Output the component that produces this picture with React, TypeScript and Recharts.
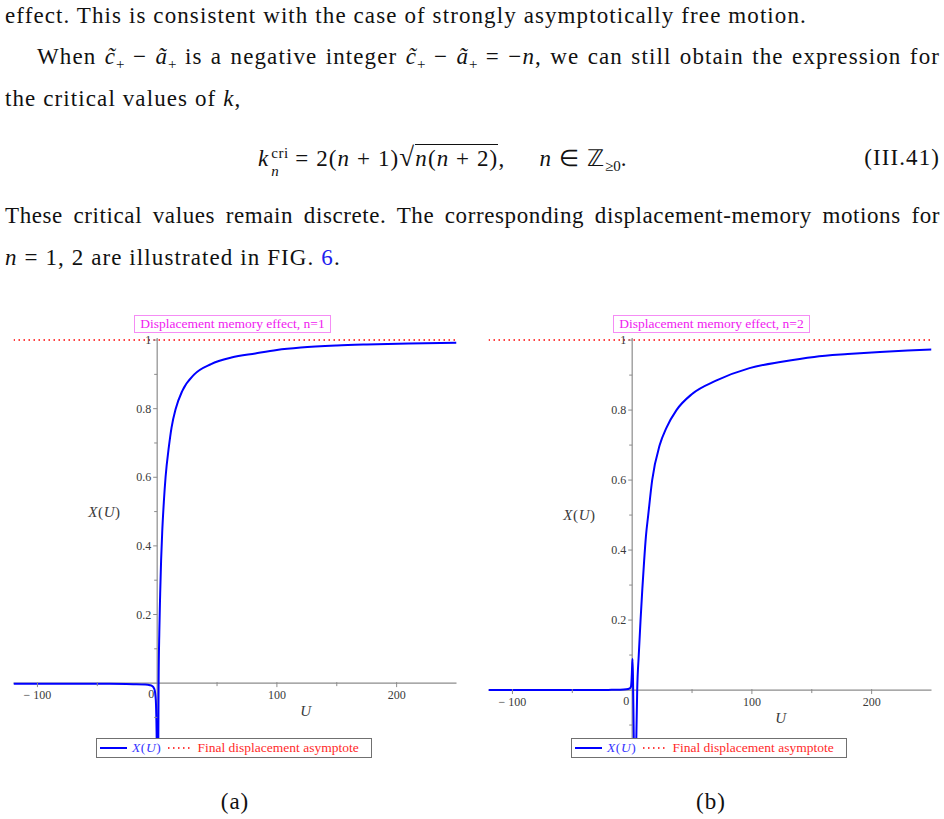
import React from 'react';
import { LineChart, Line, XAxis, YAxis, ReferenceLine, ReferenceDot, Legend } from 'recharts';

// n = 1 panel, X(U)
const uA = [-120, -80, -40, -20, -10, -6, -4, -3, -2, -1.5, -1, -0.5, 0, 0.5, 0.9, 1.2, 1.8, 2.5, 3.3, 4.2, 5.6, 7, 9.8, 12, 15.5, 21, 31, 45, 62, 82, 100, 120, 150, 175, 210, 250];
const xA = [-0.002, -0.002, -0.002, -0.003, -0.004, -0.006, -0.009, -0.013, -0.022, -0.035, -0.06, -0.14, -0.3, -0.3, -0.2, 0, 0.15, 0.26, 0.36, 0.44, 0.53, 0.6, 0.69, 0.745, 0.8, 0.852, 0.9, 0.93, 0.949, 0.961, 0.971, 0.978, 0.984, 0.987, 0.99, 0.992];

// n = 2 panel
const uB = [-120, -80, -40, -20, -10, -5, -2, -1, -0.5, 0, 0.3, 0.7, 1.2, 1.8, 2.6, 3.4, 4.2, 5.5, 7, 8.5, 10, 11.5, 13.4, 16.7, 23, 28.7, 37, 50, 70, 98, 125, 152, 180, 207, 230, 250];
const xB = [0, 0, 0, 0.0005, 0.001, 0.002, 0.005, 0.01, 0.03, 0.07, 0.089, 0.03, -0.1, -0.25, -0.3, -0.15, 0, 0.1, 0.2, 0.29, 0.37, 0.44, 0.5, 0.6, 0.7, 0.75, 0.8, 0.846, 0.884, 0.92, 0.938, 0.952, 0.96, 0.966, 0.97, 0.973];

const ASYMPTOTE = 1;

const yTicks = [-0.1, 0.1, 0.2, 0.3, 0.4, 0.5, 0.6, 0.7, 0.8, 0.9, 1];
const yLabels = ['', '', '0.2', '', '0.4', '', '0.6', '', '0.8', '', '1'];
const xTicks = [-100, -50, 50, 100, 150, 200];
const xLabels = ['\u2212 100', '', '', '100', '', '200'];

const SERIF = '"Liberation Serif", "Times New Roman", serif';
const AXIS = '#8c8c8c';
const LABEL = '#3a3a3a';

const xTickShape = (label: string) => (p: any) => (
  <g>
    <line x1={p.cx} y1={p.cy - 1} x2={p.cx} y2={p.cy + (label ? 4 : 3)} stroke={AXIS} />
    {label && (
      <text x={p.cx} y={p.cy + 16} textAnchor="middle" fontSize={12} fontFamily={SERIF} fill={LABEL}>
        {label}
      </text>
    )}
  </g>
);

const yTickShape = (label: string) => (p: any) => (
  <g>
    <line x1={p.cx - (label ? 4 : 3)} y1={p.cy} x2={p.cx} y2={p.cy} stroke={AXIS} />
    {label && (
      <text x={p.cx - 6} y={p.cy + 4} textAnchor="end" fontSize={12} fontFamily={SERIF} fill={LABEL}>
        {label}
      </text>
    )}
  </g>
);

const zeroShape = (p: any) => (
  <text x={p.cx - 6} y={p.cy + 15} textAnchor="middle" fontSize={12} fontFamily={SERIF} fill={LABEL}>0</text>
);

const uTitle = (p: any) => (
  <text x={p.cx} y={p.cy + 5} textAnchor="middle" fontSize={15} fontFamily={SERIF} fontStyle="italic" fill={LABEL}>U</text>
);

const xuTitle = (p: any) => (
  <text x={p.cx} y={p.cy + 5} textAnchor="middle" fontSize={15} fontFamily={SERIF} fill={LABEL} letterSpacing={0.6}>
    <tspan fontStyle="italic">X</tspan>(<tspan fontStyle="italic">U</tspan>)
  </text>
);

const legendBox = () => (
  <div
    style={{
      border: '1px solid #707070',
      height: 20,
      boxSizing: 'border-box',
      display: 'flex',
      alignItems: 'center',
      fontFamily: SERIF,
      fontSize: 13.5,
      background: '#fff',
      whiteSpace: 'nowrap',
      paddingLeft: 3,
    }}
  >
    <svg width={27} height={4}>
      <line x1={0} y1={2} x2={27} y2={2} stroke="#0000ff" strokeWidth={2} />
    </svg>
    <span style={{ color: '#3535ff', marginLeft: 5, letterSpacing: 0.6 }}>
      <i>X</i>(<i>U</i>)
    </span>
    <svg width={24} height={4} style={{ marginLeft: 6 }}>
      <line x1={1} y1={2} x2={24} y2={2} stroke="#ff0000" strokeWidth={1.5} strokeDasharray="1.5 3.5" />
    </svg>
    <span style={{ color: '#ff2a2a', marginLeft: 6 }}>Final displacement asymptote</span>
  </div>
);

type PanelProps = {
  u: number[];
  xs: number[];
  n: number;
  yMin: number;
  left: number;
  width: number;
  margin: { top: number; right: number; bottom: number; left: number };
  titleLeft: number;
  legendLeft: number;
};

const Panel: React.FC<PanelProps> = ({ u, xs, n, yMin, left, width, margin, titleLeft, legendLeft }) => {
  const data = u.map((v, i) => ({ u: v, x: xs[i], asym: ASYMPTOTE }));
  return (
    <>
      <div
        style={{
          position: 'absolute',
          left: titleLeft,
          top: 315,
          width: 197,
          height: 18,
          boxSizing: 'border-box',
          border: '1.5px solid #f58cf5',
          color: '#f020f0',
          fontFamily: SERIF,
          fontSize: 13.5,
          lineHeight: '15px',
          textAlign: 'center',
          whiteSpace: 'nowrap',
        }}
      >
        Displacement memory effect, n={n}
      </div>
      <div style={{ position: 'absolute', left, top: 300 }}>
        <LineChart width={width} height={470} data={data} margin={margin}>
          <XAxis type="number" dataKey="u" domain={[-120, 250]} allowDataOverflow hide />
          <YAxis type="number" domain={[yMin, 1.006]} allowDataOverflow hide />
          <ReferenceLine x={0} stroke={AXIS} strokeWidth={1.2} />
          <ReferenceLine y={0} stroke={AXIS} strokeWidth={1.2} />
          {xTicks.map((t, i) => (
            <ReferenceDot key={'x' + t} x={t} y={0} r={0} shape={xTickShape(xLabels[i])} />
          ))}
          {yTicks.map((t, i) => (
            <ReferenceDot key={'y' + t} x={0} y={t} r={0} shape={yTickShape(yLabels[i])} />
          ))}
          <ReferenceDot x={0} y={0} r={0} shape={zeroShape} />
          <ReferenceDot x={124} y={-0.08} r={0} shape={uTitle} />
          <ReferenceDot x={-44} y={0.5} r={0} shape={xuTitle} />
          <Line
            type="monotone"
            dataKey="x"
            stroke="#0000ff"
            strokeWidth={2}
            dot={false}
            isAnimationActive={false}
          />
          <Line
            type="linear"
            dataKey="asym"
            stroke="#ff0000"
            strokeWidth={1.5}
            strokeDasharray="1.5 3.5"
            dot={false}
            isAnimationActive={false}
          />
          <Legend
            layout="horizontal"
            verticalAlign="middle"
            content={legendBox}
            wrapperStyle={{ left: legendLeft, top: 438, width: 276, height: 20 }}
          />
        </LineChart>
      </div>
    </>
  );
};

const line = (top: number, left: number, width: number, justify = true, spacing = 1.1): React.CSSProperties => ({
  position: 'absolute',
  top,
  left,
  width,
  fontSize: 23,
  letterSpacing: spacing,
  lineHeight: '23px',
  textAlign: justify ? 'justify' : 'left',
  textAlignLast: justify ? 'justify' : 'left',
  whiteSpace: justify ? 'normal' : 'nowrap',
});

const sub: React.CSSProperties = { fontSize: 15, position: 'relative', top: 5, letterSpacing: 0 };

export default function App() {
  return (
    <div
      style={{
        position: 'absolute',
        left: 0,
        top: 0,
        width: 944,
        height: 819,
        overflow: 'hidden',
        background: '#fff',
        fontFamily: SERIF,
        color: '#111',
      }}
    >
      <div style={line(4, 5, 820, false)}>
        effect. This is consistent with the case of strongly asymptotically free motion.
      </div>
      <div style={line(45, 37, 903)}>
        When <i>c&#771;</i><span style={sub}>+</span> &minus; <i>a&#771;</i><span style={sub}>+</span> is a negative
        integer <i>c&#771;</i><span style={sub}>+</span> &minus; <i>a&#771;</i><span style={sub}>+</span> = &minus;<i>n</i>,
        we can still obtain the expression for
      </div>
      <div style={line(87, 5, 260, false)}>
        the critical values of <i>k</i>,
      </div>
      <div style={line(146, 258, 440, false)}>
        <i>k</i>
        <span style={{ display: 'inline-block', position: 'relative', width: 26, height: 10 }}>
          <span style={{ position: 'absolute', left: 2, top: -14, fontSize: 15, letterSpacing: 0.5 }}>cri</span>
          <span style={{ position: 'absolute', left: 2, top: 4, fontSize: 15, fontStyle: 'italic' }}>n</span>
        </span>
        = 2(<i>n</i> + 1)
        <span style={{ fontSize: 27 }}>&radic;</span>
        <span style={{ borderTop: '1px solid #111', paddingTop: 1 }}>
          <i>n</i>(<i>n</i> + 2)
        </span>
        ,&nbsp;&nbsp;&nbsp;&nbsp;&nbsp;<i>n</i> &isin; &#8484;<span style={{ ...sub, fontSize: 15 }}>&ge;0</span>.
      </div>
      <div style={{ ...line(146, 790, 150, false), textAlign: 'right', textAlignLast: 'right' }}>(III.41)</div>
      <div style={line(204, 5, 935, true, 0.6)}>
        These critical values remain discrete. The corresponding displacement-memory motions for
      </div>
      <div style={line(246, 5, 380, false)}>
        <i>n</i> = 1, 2 are illustrated in FIG. <span style={{ color: '#2020ee' }}>6</span>.
      </div>

      <Panel
        u={uA}
        xs={xA}
        n={1}
        yMin={-0.16}
        left={0}
        width={470}
        margin={{ top: 38, right: 13.5, bottom: 32, left: 13.5 }}
        titleLeft={134}
        legendLeft={96}
      />
      <Panel
        u={uB}
        xs={xB}
        n={2}
        yMin={-0.137}
        left={476}
        width={466}
        margin={{ top: 38, right: 10.5, bottom: 32, left: 12.5 }}
        titleLeft={613}
        legendLeft={95}
      />

      <div style={{ position: 'absolute', left: 195, top: 790, width: 80, textAlign: 'center', fontSize: 23, letterSpacing: 1, lineHeight: '23px' }}>
        (a)
      </div>
      <div style={{ position: 'absolute', left: 671, top: 790, width: 80, textAlign: 'center', fontSize: 23, letterSpacing: 1, lineHeight: '23px' }}>
        (b)
      </div>
    </div>
  );
}
